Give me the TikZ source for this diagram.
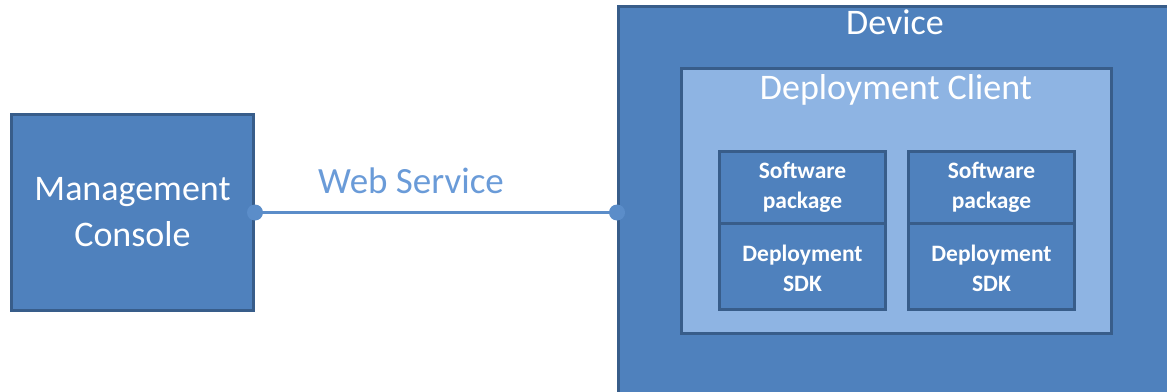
\documentclass[tikz,border=0pt]{standalone}
\usepackage{fontspec}
\setmainfont{Carlito}
\definecolor{mainblue}{HTML}{4F81BD}
\definecolor{darkblue}{HTML}{385D8A}
\definecolor{lightblue}{HTML}{8EB4E3}
\definecolor{wsblue}{HTML}{6A9BD8}
\definecolor{linkblue}{HTML}{5B8DC9}
\begin{document}
\begin{tikzpicture}[x=1pt,y=-1pt,
  box/.style={draw=darkblue,line width=3pt,fill=mainblue,rectangle,inner sep=0pt,anchor=north west},
  lightbox/.style={box,fill=lightblue},
  bigtext/.style={text=white,font=\fontsize{36}{46}\selectfont,align=center},
  smalltext/.style={text=white,font=\bfseries\fontsize{23.5}{30}\selectfont,align=center},
  dot/.style={circle,fill=linkblue,inner sep=0pt,minimum size=16pt},
  link/.style={draw=linkblue,line width=3pt}]
\useasboundingbox (0,0) rectangle (1167,391);
\clip (0,0) rectangle (1167,391);
% Management console
\node[box,minimum width=242pt,minimum height=196pt] (mc) at (10,113) {};
\node[bigtext] (mct) at (mc.center) {Management\\Console};
% Device
\node[box,minimum width=580pt,minimum height=420pt] (device) at (617,5) {};
\node[bigtext] (devt) at (895,22) {Device};
% Deployment client
\node[lightbox,minimum width=430pt,minimum height=265pt] (client) at (680,67) {};
\node[bigtext] (clientt) at (896,90) {Deployment Client};
% inner boxes
\node[box,minimum width=166pt,minimum height=72pt] (sp1) at (718,150) {};
\node[box,minimum width=166pt,minimum height=86pt] (sdk1) at (718,222) {};
\node[box,minimum width=166pt,minimum height=72pt] (sp2) at (907,150) {};
\node[box,minimum width=166pt,minimum height=86pt] (sdk2) at (907,222) {};
\node[smalltext] (sp1t) at (sp1.center) {Software\\package};
\node[smalltext] (sdk1t) at ([yshift=-2pt]sdk1.center) {Deployment\\SDK};
\node[smalltext] (sp2t) at (sp2.center) {Software\\package};
\node[smalltext] (sdk2t) at ([yshift=-2pt]sdk2.center) {Deployment\\SDK};
% connector
\coordinate (devin) at (device.west |- mc.east);
\draw[link] (mc.east) -- (devin);
\node[text=wsblue,font=\fontsize{37}{40}\selectfont] (ws) at (411,181) {Web Service};
\node[dot] (d1) at (mc.east) {};
\node[dot] (d2) at (devin) {};
\end{tikzpicture}
\end{document}
